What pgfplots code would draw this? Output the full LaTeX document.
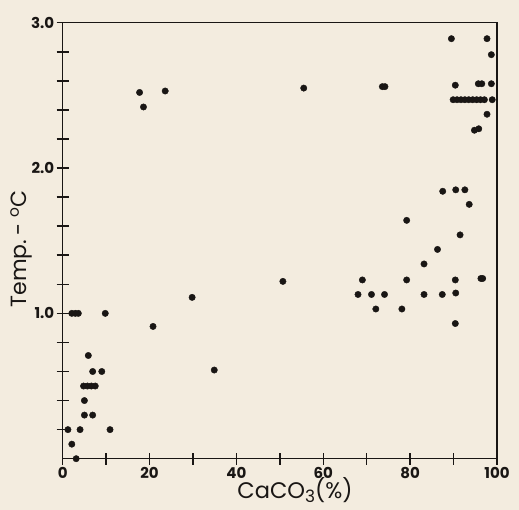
\documentclass[border=0pt]{standalone}
\usepackage{fontspec}
\setmainfont{Poppins}
\usepackage{pgfplots}
\pgfplotsset{compat=1.18}
\definecolor{paper}{RGB}{243,236,223}
\definecolor{ink}{RGB}{25,22,20}

\begin{document}
\begin{tikzpicture}[x=1pt,y=1pt]
  \fill[paper] (-62.7,-51.3) rectangle (456.3,458.7);
  \begin{axis}[
    at={(0,0)}, anchor=south west,
    scale only axis, width=434.3pt, height=436pt,
    xmin=0, xmax=100, ymin=0, ymax=3,
    axis line style={ink, line width=1.4pt},
    /pgf/number format/assume math mode=true,
    xtick pos=lower, ytick pos=left,
    xtick={0,20,40,60,80,100},
    minor xtick={10,30,50,70,90},
    ytick={1,2,3},
    yticklabels={1.0,2.0,3.0},
    minor ytick={0.2,0.4,0.6,0.8,1.2,1.4,1.6,1.8,2.2,2.4,2.6,2.8},
    xtick align=center, ytick align=center,
    major tick length=12pt, minor tick length=12pt,
    every tick/.style={ink, line width=1.5pt},
    every minor tick/.style={ink, line width=1.5pt},
    ticklabel style={font=\bfseries\fontsize{15}{17}\selectfont, text=ink},
    xticklabel style={yshift=1pt},
    yticklabel style={xshift=1pt},
    xlabel={CaCO\raisebox{-0.3ex}{\fontsize{17}{19}\selectfont 3}(\%)},
    ylabel={Temp.\,- \textsuperscript{o}C},
    label style={text=ink},
    xlabel style={font=\fontsize{22.5}{24}\selectfont, at={(axis description cs:0.535,0)}, anchor=north, yshift=-18pt, inner sep=1pt},
    ylabel style={font=\fontsize{22}{24}\selectfont, at={(axis description cs:0,0.481)}, anchor=south, yshift=27pt},
    clip=false,
  ]
    \addplot[only marks, mark=*, mark size=3.2pt, ink, mark options={fill=ink, draw=ink}] coordinates {
      (89.5,2.89) (97.7,2.89) (98.7,2.78)
      (90.4,2.57) (95.7,2.58) (96.5,2.58) (98.7,2.58)
      (89.9,2.47) (90.8,2.47) (91.7,2.47) (92.6,2.47) (93.5,2.47)
      (94.4,2.47) (95.3,2.47) (96.2,2.47) (97.1,2.47) (98.9,2.47)
      (97.7,2.37) (94.8,2.26) (95.8,2.27)
      (55.5,2.55) (73.6,2.56) (74.2,2.56)
      (17.7,2.52) (23.6,2.53) (18.6,2.42)
      (87.5,1.84) (90.5,1.85) (92.6,1.85) (93.6,1.75) (79.2,1.64)
      (91.5,1.54) (86.3,1.44) (83.2,1.34)
      (69.0,1.23) (79.2,1.23) (90.4,1.23) (96.3,1.24) (96.7,1.24)
      (68.0,1.13) (71.1,1.13) (74.1,1.13) (83.2,1.13) (87.4,1.13) (90.5,1.14)
      (72.1,1.03) (78.1,1.03) (90.4,0.93) (50.7,1.22)
      (29.8,1.11) (20.8,0.91) (34.9,0.61)
      (9.8,1.00) (2.1,1.00) (2.9,1.00) (3.6,1.00)
      (5.9,0.71) (6.9,0.60) (9.0,0.60)
      (4.8,0.50) (5.7,0.50) (6.6,0.50) (7.5,0.50)
      (5.0,0.40) (5.0,0.30) (6.9,0.30)
      (1.2,0.20) (4.0,0.20) (10.9,0.20) (2.1,0.10) (3.1,0.00)
    };
  \end{axis}
  \pgfresetboundingbox
  \path (-62.7,-51.3) rectangle (456.3,458.7);
\end{tikzpicture}
\end{document}
